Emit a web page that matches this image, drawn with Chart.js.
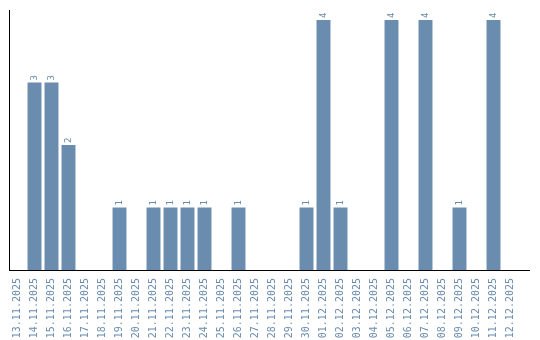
<!DOCTYPE html>
<html>
<head>
<meta charset="utf-8">
<script src="https://cdn.jsdelivr.net/npm/chart.js@4/dist/chart.umd.min.js"></script>
<style>
  html, body { margin: 0; padding: 0; background: #fff; }
  #chart { display: block; }
</style>
</head>
<body>
<canvas id="chart" width="540" height="340"></canvas>
<script>
// dias y conteos
const dates = [
  '13.11.2025', '14.11.2025', '15.11.2025', '16.11.2025', '17.11.2025', '18.11.2025',
  '19.11.2025', '20.11.2025', '21.11.2025', '22.11.2025', '23.11.2025', '24.11.2025',
  '25.11.2025', '26.11.2025', '27.11.2025', '28.11.2025', '29.11.2025', '30.11.2025',
  '01.12.2025', '02.12.2025', '03.12.2025', '04.12.2025', '05.12.2025', '06.12.2025',
  '07.12.2025', '08.12.2025', '09.12.2025', '10.12.2025', '11.12.2025', '12.12.2025'
];
const counts = [0, 3, 3, 2, 0, 0, 1, 0, 1, 1, 1, 1, 0, 1, 0, 0, 0, 1, 4, 1, 0, 0, 4, 0, 4, 0, 1, 0, 4, 0];

const barColor = '#6a8caf';
const textColor = '#6a8caf';

// etiquetas encima de cada barra, giradas
const barLabels = {
  id: 'barLabels',
  afterDatasetsDraw(chart) {
    const ctx = chart.ctx;
    const meta = chart.getDatasetMeta(0);
    ctx.save();
    ctx.fillStyle = textColor;
    ctx.font = '9px "DejaVu Sans Mono"';
    ctx.textAlign = 'left';
    ctx.textBaseline = 'middle';
    meta.data.forEach((bar, i) => {
      const v = counts[i];
      if (!v) return;
      ctx.save();
      ctx.translate(bar.x, bar.y - 2);
      ctx.rotate(-Math.PI / 2);
      ctx.fillText(String(v), 0, 0);
      ctx.restore();
    });
    ctx.restore();
  }
};

// el eje x sigue un poco mas alla del area
const axisExtend = {
  id: 'axisExtend',
  afterDraw(chart) {
    const { ctx, chartArea } = chart;
    ctx.save();
    ctx.strokeStyle = '#000';
    ctx.lineWidth = 1;
    ctx.beginPath();
    ctx.moveTo(chartArea.left, Math.round(chartArea.bottom) + 0.5);
    ctx.lineTo(530, Math.round(chartArea.bottom) + 0.5);
    ctx.stroke();
    ctx.restore();
  }
};

new Chart(document.getElementById('chart'), {
  type: 'bar',
  data: {
    labels: dates,
    datasets: [{
      data: counts,
      backgroundColor: barColor,
      borderWidth: 0,
      categoryPercentage: 1,
      barPercentage: 0.82
    }]
  },
  options: {
    responsive: false,
    animation: false,
    layout: { padding: { left: 9, right: 21, top: 10, bottom: 0 } },
    plugins: {
      legend: { display: false },
      tooltip: { enabled: false }
    },
    scales: {
      x: {
        grid: { display: false },
        border: { display: true, color: '#000', width: 1 },
        ticks: {
          color: textColor,
          font: { family: 'DejaVu Sans Mono', size: 10 },
          minRotation: 90,
          maxRotation: 90,
          autoSkip: false,
          padding: 0
        },
        afterFit(scale) { scale.height = 70; }
      },
      y: {
        min: 0,
        max: 4.16,
        grid: { display: false },
        border: { display: true, color: '#000', width: 1 },
        ticks: { display: false },
        afterFit(scale) { scale.width = 0; }
      }
    }
  },
  plugins: [barLabels, axisExtend]
});
</script>
</body>
</html>
